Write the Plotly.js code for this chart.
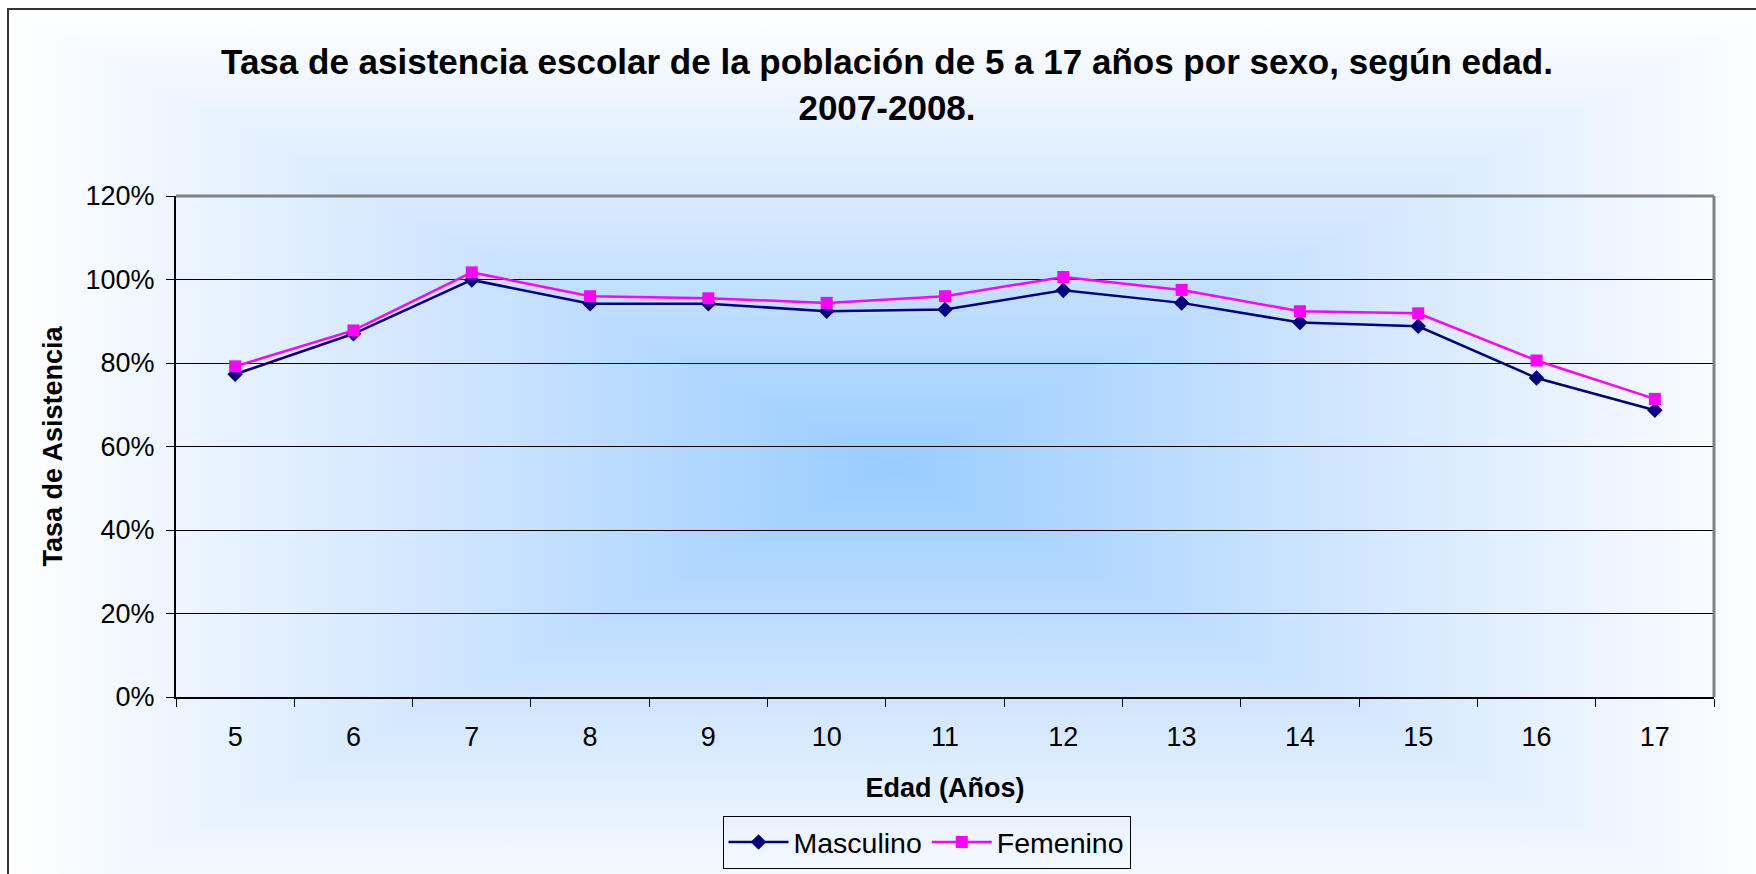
<!DOCTYPE html>
<html>
<head>
<meta charset="utf-8">
<script src="https://cdn.plot.ly/plotly-3.0.1.min.js"></script>
<style>html,body{margin:0;padding:0;background:#fff;}#chart{width:1756px;height:874px;}</style>
</head>
<body>
<div id="chart"></div>
<script>
// ---- data ----
const edades = ['5','6','7','8','9','10','11','12','13','14','15','16','17'];
const masculino = [77.3, 87.0, 99.9, 94.2, 94.2, 92.4, 92.8, 97.4, 94.4, 89.7, 88.8, 76.4, 68.7];
const femenino  = [79.2, 87.8, 101.7, 96.0, 95.5, 94.4, 96.0, 100.6, 97.5, 92.4, 91.9, 80.6, 71.4];
const yTicks = [0, 20, 40, 60, 80, 100, 120];
const titulo = 'Tasa de asistencia escolar de la población de 5 a 17 años por sexo, según edad.<br>2007-2008.';

// ---- geometry of the page ----
const W = 1756, H = 874;
const M = {l: 176, r: 42, t: 196, b: 177};
const pw = W - M.l - M.r, ph = H - M.t - M.b;

// background: rectangular "from centre" gradient + chart border
const X0 = 8, Y0 = 9, cx = 892, cy = 468;
const X1 = 2 * cx - X0, Y1 = 2 * cy - Y0;
const C0 = '#ffffff', Cm = '#cfe5ff', C1 = '#99ccff';
const svg = `<svg xmlns="http://www.w3.org/2000/svg" width="${W}" height="${H}" viewBox="0 0 ${W} ${H}">
<defs>
<linearGradient id="h" gradientUnits="userSpaceOnUse" x1="${X0}" y1="0" x2="${X1}" y2="0">
<stop offset="0" stop-color="${C0}"/><stop offset="0.25" stop-color="${Cm}"/><stop offset="0.5" stop-color="${C1}"/><stop offset="0.75" stop-color="${Cm}"/><stop offset="1" stop-color="${C0}"/></linearGradient>
<linearGradient id="v" gradientUnits="userSpaceOnUse" x1="0" y1="${Y0}" x2="0" y2="${Y1}">
<stop offset="0" stop-color="${C0}"/><stop offset="0.25" stop-color="${Cm}"/><stop offset="0.5" stop-color="${C1}"/><stop offset="0.75" stop-color="${Cm}"/><stop offset="1" stop-color="${C0}"/></linearGradient>
</defs>
<rect x="0" y="0" width="${W}" height="${H}" fill="#ffffff"/>
<rect x="${X0}" y="${Y0}" width="${X1 - X0}" height="${Y1 - Y0}" fill="url(#h)"/>
<polygon points="${X0},${Y0} ${X1},${Y0} ${cx},${cy}" fill="url(#v)"/>
<polygon points="${X0},${Y1} ${X1},${Y1} ${cx},${cy}" fill="url(#v)"/>
<rect x="${X0}" y="${Y0}" width="${X1 - X0 + 50}" height="${Y1 - Y0 + 50}" fill="none" stroke="#333333" stroke-width="2"/>
</svg>`;
const bgSrc = 'data:image/svg+xml;charset=utf-8,' + encodeURIComponent(svg);

const FONT = 'Liberation Sans, Arial, Helvetica, sans-serif';

const traces = [
  {
    x: edades, y: masculino, name: 'Masculino', type: 'scatter', mode: 'lines+markers',
    line: {color: '#000080', width: 2.5},
    marker: {symbol: 'diamond', size: 12, color: '#000080'},
    cliponaxis: false
  },
  {
    x: edades, y: femenino, name: 'Femenino', type: 'scatter', mode: 'lines+markers',
    line: {color: '#ff00ff', width: 2.5},
    marker: {symbol: 'square', size: 12, color: '#ff00ff'},
    cliponaxis: false
  }
];

const layout = {
  width: W, height: H,
  margin: {l: M.l, r: M.r, t: M.t, b: M.b, autoexpand: false},
  paper_bgcolor: '#ffffff',
  plot_bgcolor: 'rgba(0,0,0,0)',
  font: {family: FONT, color: '#000000', size: 27},
  title: {
    text: titulo,
    font: {family: FONT, size: 35, weight: 'bold', color: '#000'},
    xref: 'paper', x: (887 - M.l) / pw, xanchor: 'center',
    yref: 'container', y: 1 - 74 / H, yanchor: 'middle'
  },
  xaxis: {
    type: 'category',
    range: [-0.5, edades.length - 0.5],
    tickson: 'boundaries',
    ticks: 'outside', ticklen: 8, tickwidth: 1, tickcolor: '#000',
    showline: true, linecolor: '#000', linewidth: 2,
    showgrid: false, zeroline: false,
    tickfont: {family: FONT, size: 27, color: '#000'},
    ticklabelstandoff: 15,
    title: {text: 'Edad (Años)', font: {family: FONT, size: 27, weight: 'bold', color: '#000'}, standoff: 27},
    automargin: false, fixedrange: true
  },
  yaxis: {
    range: [0, 120],
    tickvals: yTicks,
    ticktext: yTicks.map(v => v + '%'),
    ticks: 'outside', ticklen: 8, tickwidth: 1, tickcolor: '#000',
    showline: true, linecolor: '#000', linewidth: 2,
    showgrid: true, gridcolor: '#000', gridwidth: 1,
    zeroline: false,
    tickfont: {family: FONT, size: 27, color: '#000'},
    ticklabelstandoff: 6,
    title: {text: 'Tasa de Asistencia', font: {family: FONT, size: 27, weight: 'bold', color: '#000'}, standoff: 15},
    automargin: false, fixedrange: true
  },
  legend: {
    orientation: 'h',
    x: (926.5 - M.l) / pw, xanchor: 'center',
    y: (H - M.b - 816) / ph, yanchor: 'top',
    bgcolor: 'rgba(255,255,255,0)',
    bordercolor: '#000', borderwidth: 1,
    font: {family: FONT, size: 28.5, color: '#000'},
    itemwidth: 60
  },
  shapes: [
    {type: 'line', xref: 'paper', yref: 'paper', x0: 0, x1: 1, y0: 1, y1: 1, line: {color: '#808080', width: 3}},
    {type: 'line', xref: 'paper', yref: 'paper', x0: 1, x1: 1, y0: 0, y1: 1, line: {color: '#808080', width: 3}}
  ],
  images: [{
    source: bgSrc, xref: 'paper', yref: 'paper',
    x: -M.l / pw, y: (H - M.b) / ph, sizex: W / pw, sizey: H / ph,
    xanchor: 'left', yanchor: 'top', sizing: 'stretch', layer: 'below'
  }],
  showlegend: true
};

Plotly.newPlot('chart', traces, layout, {displayModeBar: false, staticPlot: true});
</script>
</body>
</html>
